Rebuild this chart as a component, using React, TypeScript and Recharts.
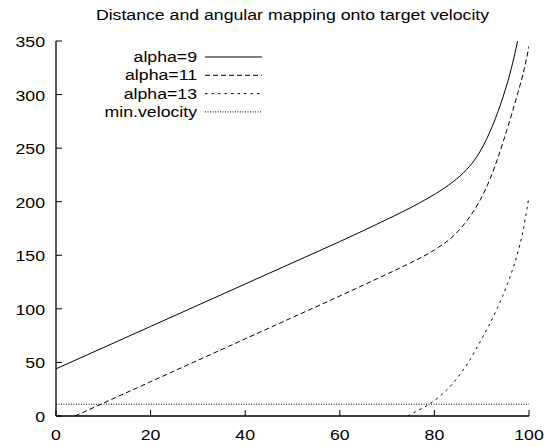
import React from 'react';
import { LineChart, Line, XAxis, YAxis } from 'recharts';

const W = 560;
const H = 447;
// plot box
const PLOT_LEFT = 56;
const PLOT_RIGHT = 529;
const PLOT_TOP = 41;
const PLOT_BOTTOM = 416;
const TICK = 6;
const FONT = '"Liberation Sans", Arial, Helvetica, sans-serif';
const FONT_SIZE = 15;
const STRETCH = 1.18; // the reference text is a bit wide

const title = 'Distance and angular mapping onto target velocity';
const xTicks = [0, 20, 40, 60, 80, 100];
const yTicks = [0, 50, 100, 150, 200, 250, 300, 350];

const alpha9X = [0, 10, 20, 30, 40, 50, 60, 70, 75, 78.4, 82, 84, 86.8, 89, 91.8, 94, 96, 97, 98];
const alpha9Y = [44, 63.8, 83.6, 103.4, 123.2, 143, 162.8, 183.6, 194.5, 202.7, 212.4, 218.8, 229.9, 242.2, 265.8, 291.1, 320, 338, 359];

const alpha11X = [4, 10, 20, 30, 40, 50, 60, 70, 75, 80, 84, 87, 89.6, 91.8, 93.5, 95.3, 97.4, 99, 100];
const alpha11Y = [0, 12, 32, 52, 72, 92, 112, 132.5, 143, 155, 168, 183, 201, 221.6, 242, 266.6, 297.8, 324, 345];

const alpha13X = [74.4, 76, 78.9, 81, 84, 87.1, 90, 93.2, 95.5, 97.4, 98.7, 99.6, 100];
const alpha13Y = [0, 4, 11, 18, 31, 49.5, 72, 99.6, 124, 149, 172, 194, 205];

const minVelocityX = [0, 100];
const minVelocityY = [11, 11];

const toPoints = (xs: number[], ys: number[]) => xs.map((x, i) => ({ x, y: ys[i] }));

const series = [
  { name: 'alpha=9', data: toPoints(alpha9X, alpha9Y), dash: undefined as string | undefined },
  { name: 'alpha=11', data: toPoints(alpha11X, alpha11Y), dash: '5 3' },
  { name: 'alpha=13', data: toPoints(alpha13X, alpha13Y), dash: '2.5 4' },
  { name: 'min.velocity', data: toPoints(minVelocityX, minVelocityY), dash: '1 1.5' },
];

function stretched(x: number, y: number) {
  return `translate(${x},${y}) scale(${STRETCH},1)`;
}

// bottom axis: inward tick + label
function BottomTick(props: any) {
  const { x, y, payload } = props;
  return (
    <g>
      <line x1={x} y1={y} x2={x} y2={y - TICK} stroke="#000" />
      <text
        transform={stretched(x, y + 24)}
        textAnchor="middle"
        fontFamily={FONT}
        fontSize={FONT_SIZE}
        fill="#000"
      >
        {payload.value}
      </text>
    </g>
  );
}

function LeftTick(props: any) {
  const { x, y, payload } = props;
  return (
    <g>
      <line x1={x} y1={y} x2={x + TICK} y2={y} stroke="#000" />
      <text
        transform={stretched(x - 11, y + 6)}
        textAnchor="end"
        fontFamily={FONT}
        fontSize={FONT_SIZE}
        fill="#000"
      >
        {payload.value}
      </text>
    </g>
  );
}

// mirrored ticks on the top and right edges, no labels
function TopTick(props: any) {
  const { x, y } = props;
  return <line x1={x} y1={y} x2={x} y2={y + TICK} stroke="#000" />;
}

function RightTick(props: any) {
  const { x, y } = props;
  return <line x1={x} y1={y} x2={x - TICK} y2={y} stroke="#000" />;
}

function Overlay() {
  return (
    <svg
      width={W}
      height={H}
      style={{ position: 'absolute', left: 0, top: 0, pointerEvents: 'none' }}
    >
      <text
        transform={stretched((PLOT_LEFT + PLOT_RIGHT) / 2, 20)}
        textAnchor="middle"
        fontFamily={FONT}
        fontSize={FONT_SIZE}
        fill="#000"
      >
        {title}
      </text>
      {series.map((s, i) => {
        const y = 57 + i * 18.3;
        return (
          <g key={s.name}>
            <text
              transform={stretched(197, y + 5)}
              textAnchor="end"
              fontFamily={FONT}
              fontSize={FONT_SIZE}
              fill="#000"
            >
              {s.name}
            </text>
            <line x1={205} y1={y} x2={262} y2={y} stroke="#000" strokeDasharray={s.dash} />
          </g>
        );
      })}
    </svg>
  );
}

export default function App() {
  return (
    <div style={{ position: 'absolute', left: 0, top: 0, width: W, height: H, background: '#fff' }}>
      <LineChart
        width={W}
        height={H}
        margin={{ top: PLOT_TOP, right: W - PLOT_RIGHT, bottom: 0, left: 0 }}
      >
        <XAxis
          type="number"
          dataKey="x"
          domain={[0, 100]}
          ticks={xTicks}
          allowDataOverflow
          height={H - PLOT_BOTTOM}
          tickSize={0}
          tickMargin={0}
          tickLine={false}
          tick={<BottomTick />}
          axisLine={{ stroke: '#000', strokeWidth: 1.3 }}
        />
        <XAxis
          xAxisId="top"
          orientation="top"
          type="number"
          dataKey="x"
          domain={[0, 100]}
          ticks={xTicks}
          allowDataOverflow
          height={0}
          tickSize={0}
          tickMargin={0}
          tickLine={false}
          tick={<TopTick />}
          axisLine={{ stroke: '#000', strokeWidth: 1.3 }}
        />
        <YAxis
          type="number"
          domain={[0, 350]}
          ticks={yTicks}
          allowDataOverflow
          width={PLOT_LEFT}
          tickSize={0}
          tickMargin={0}
          tickLine={false}
          tick={<LeftTick />}
          axisLine={{ stroke: '#000', strokeWidth: 1.3 }}
        />
        <YAxis
          yAxisId="right"
          orientation="right"
          type="number"
          domain={[0, 350]}
          ticks={yTicks}
          allowDataOverflow
          width={0}
          tickSize={0}
          tickMargin={0}
          tickLine={false}
          tick={<RightTick />}
          axisLine={{ stroke: '#000', strokeWidth: 1.3 }}
        />
        {series.map((s) => (
          <Line
            key={s.name}
            name={s.name}
            data={s.data}
            dataKey="y"
            type="monotone"
            stroke="#000"
            strokeWidth={1}
            strokeDasharray={s.dash}
            dot={false}
            activeDot={false}
            isAnimationActive={false}
          />
        ))}
      </LineChart>
      <Overlay />
    </div>
  );
}
